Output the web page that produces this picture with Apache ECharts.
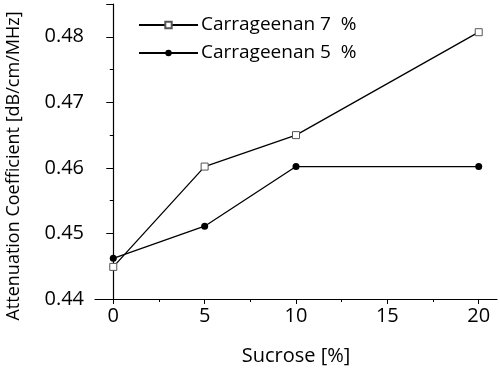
<!DOCTYPE html>
<html><head><meta charset="utf-8">
<script src="https://cdn.jsdelivr.net/npm/echarts@6/dist/echarts.min.js"></script>
<style>html,body{margin:0;padding:0;background:#fff}#c{width:500px;height:372px}</style>
</head><body><div id="c"></div>
<script>
const sucrose = [0, 5, 10, 20];
const carr7 = [0.4449, 0.4602, 0.4650, 0.4807];
const carr5 = [0.4462, 0.4511, 0.4602, 0.4602];
const seriesNames = ['Carrageenan 7  %', 'Carrageenan 5  %'];
const xTickLabels = [0, 5, 10, 15, 20];
const xMinorTicks = [2.5, 7.5, 12.5, 17.5];
const FONT = 'Open Sans';

const chart = echarts.init(document.getElementById('c'), null, {renderer: 'canvas'});
chart.setOption({
  animation: false,
  backgroundColor: '#fff',
  grid: {left: 95, right: 3, top: 4, bottom: 73, containLabel: false},
  legend: {
    left: 133, top: 8, orient: 'vertical', itemGap: 4,
    itemWidth: 59, itemHeight: 8,
    textStyle: {fontFamily: FONT, fontSize: 19, color: '#000', padding: [0,0,0,-2], lineHeight: 24},
    data: seriesNames
  },
  xAxis: [{
    type: 'value', min: -1, max: 21,
    axisLine: {lineStyle: {color: '#000', width: 1.2}},
    axisTick: {show: true, length: 5, lineStyle: {color: '#000'}, customValues: xTickLabels},
    axisLabel: {fontFamily: FONT, fontSize: 20, color: '#000', margin: 7, customValues: xTickLabels},
    splitLine: {show: false},
    name: 'Sucrose [%]', nameLocation: 'middle', nameGap: 47,
    nameTextStyle: {fontFamily: FONT, fontSize: 20, color: '#000'}
  }, {
    type: 'value', min: -1, max: 21, position: 'bottom',
    axisLine: {show: false},
    axisTick: {show: true, length: 3, lineStyle: {color: '#000'}, customValues: xMinorTicks},
    axisLabel: {show: false},
    splitLine: {show: false}
  }],
  yAxis: {
    type: 'value', min: 0.44, max: 0.485, interval: 0.01,
    axisLine: {show: true, lineStyle: {color: '#000', width: 1.2}},
    axisTick: {show: true, length: 7, lineStyle: {color: '#000'}},
    minorTick: {show: true, splitNumber: 2, length: 3.5, lineStyle: {color: '#000'}},
    axisLabel: {fontFamily: FONT, fontSize: 20, color: '#000', margin: 11, showMaxLabel: false,
      formatter: v => v.toFixed(2)},
    splitLine: {show: false}
  },
  graphic: [{
    type: 'text', x: 14, y: 166, rotation: Math.PI / 2,
    style: {text: 'Attenuation Coefficient [dB/cm/MHz]', fontFamily: FONT, fontSize: 18,
      fill: '#000', align: 'center', verticalAlign: 'middle'}
  }],
  series: [{
    name: seriesNames[0], type: 'line',
    data: sucrose.map((s, i) => [s, carr7[i]]),
    symbol: 'rect', symbolSize: 7,
    lineStyle: {color: '#000', width: 1.3},
    itemStyle: {color: '#fff', borderColor: '#555', borderWidth: 1}
  }, {
    name: seriesNames[1], type: 'line',
    data: sucrose.map((s, i) => [s, carr5[i]]),
    symbol: 'circle', symbolSize: 7,
    lineStyle: {color: '#000', width: 1.3},
    itemStyle: {color: '#000', borderColor: '#000', borderWidth: 0}
  }]
});
</script></body></html>
